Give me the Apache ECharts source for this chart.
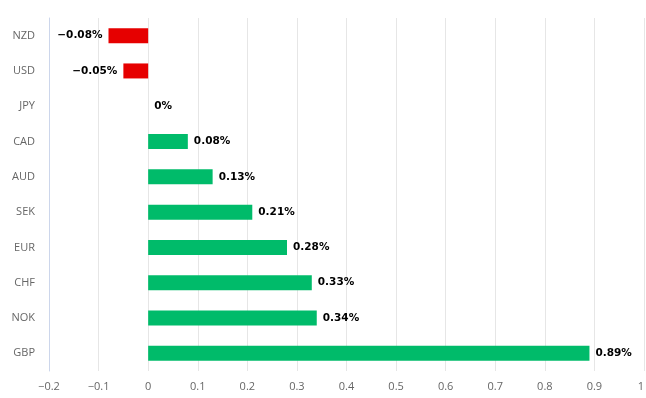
<!DOCTYPE html>
<html><head><meta charset="utf-8">
<script src="https://cdn.jsdelivr.net/npm/echarts@6/dist/echarts.min.js"></script>
<style>html,body{margin:0;padding:0;background:#fff}#c{width:646px;height:398px}</style>
</head><body><div id="c"></div>
<script>
const categories = ['NZD','USD','JPY','CAD','AUD','SEK','EUR','CHF','NOK','GBP'];
const values = [-0.08,-0.05,0,0.08,0.13,0.21,0.28,0.33,0.34,0.89];
const xTicks = {min:-0.2, max:1, interval:0.1};

function fmt(v){ return (v<0 ? '\u2212' + Math.abs(v) : String(v)) + '%'; }

const chart = echarts.init(document.getElementById('c'));
chart.setOption({
  animation:false,
  grid:{left:49, right:2, top:18, bottom:27, outerBoundsMode:'none', containLabel:false},
  xAxis:{
    type:'value', min:xTicks.min, max:xTicks.max, interval:xTicks.interval,
    axisLine:{show:false}, axisTick:{show:false},
    splitLine:{showMinLine:false, lineStyle:{color:'#e6e6e6'}},
    axisLabel:{color:'#666', fontFamily:'Open Sans', fontSize:11, margin:10, alignMaxLabel:'right',
      formatter:v=>{ v=Math.round(v*10)/10; return v<0?'\u2212'+Math.abs(v):String(v);} }
  },
  yAxis:{
    type:'category', data:categories, inverse:true, z:5,
    axisLine:{onZero:false, lineStyle:{color:'#ccd6eb'}},
    axisTick:{length:8, lineStyle:{color:'#ccd6eb'}},
    axisLabel:{color:'#666', fontFamily:'Open Sans', fontSize:11, margin:14}
  },
  series:[{
    type:'bar', barWidth:15,
    data: values.map(v=>({
      value:v,
      itemStyle:{color: v<0 ? '#e60000' : '#00bb6a'},
      label:{show:true, position: v<0 ? 'left' : 'right', distance:6,
        formatter:()=>fmt(v), color:'#000', fontWeight:'bold',
        fontFamily:'DejaVu Sans', fontSize:10.5}
    }))
  }]
});
</script></body></html>
